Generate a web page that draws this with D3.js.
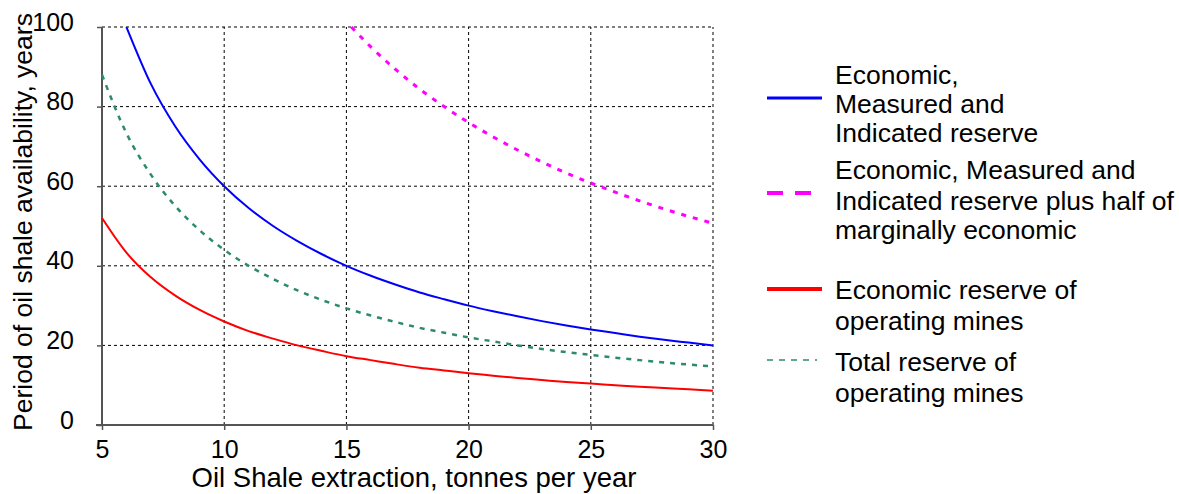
<!DOCTYPE html>
<html><head><meta charset="utf-8">
<script src="https://cdn.jsdelivr.net/npm/d3@7"></script>
<style>body{margin:0;background:#fff}svg{display:block}text{font-family:"Liberation Sans",Arial,sans-serif;fill:#000}</style>
</head><body>
<svg id="c" width="1179" height="494"></svg>
<script>
const xTicks = [5, 10, 15, 20, 25, 30];
const yTicks = [0, 20, 40, 60, 80, 100];
const xAxisTitle = "Oil Shale extraction, tonnes per year";
const yAxisTitle = "Period of oil shale availability, years";

const blueX = [6,7,8,9,10,11,12,13,14,15,16,17,18,19,20,21,22,23,24,25,26,27,28,29,30];
const blueY = [100,85.7,75,66.7,60,54.5,50,46.2,42.9,40,37.5,35.3,33.3,31.6,30,28.6,27.3,26.1,25,24,23.1,22.2,21.4,20.7,20];
const magX = [15.2,16,17,18,19,20,21,22,23,24,25,26,27,28,29,30];
const magY = [100,95,89.4,84.4,80,76,72.4,69.1,66.1,63.3,60.8,58.5,56.3,54.3,52.4,50.7];
const redX = [5,6,7,8,9,10,11,12,13,14,15,16,17,18,19,20,21,22,23,24,25,26,27,28,29,30];
const redY = [52,43.3,37.1,32.5,28.9,26,23.6,21.7,20,18.6,17.3,16.3,15.3,14.4,13.7,13,12.4,11.8,11.3,10.8,10.4,10,9.6,9.3,9,8.6];
const greenX = [5,6,7,8,9,10,11,12,13,14,15,16,17,18,19,20,21,22,23,24,25,26,27,28,29,30];
const greenY = [88,73.3,62.9,55,48.9,44,40,36.7,33.8,31.4,29.3,27.5,25.9,24.4,23.2,22,21,20,19.1,18.3,17.6,16.9,16.3,15.7,15.2,14.7];

const seriesNames = [
  ["Economic,", "Measured and", "Indicated reserve"],
  ["Economic, Measured and", "Indicated reserve plus half of", "marginally economic"],
  ["Economic reserve of", "operating mines"],
  ["Total reserve of", "operating mines"]
];

const svg = d3.select("#c");
const x = d3.scaleLinear().domain([5, 30]).range([102, 713]);
const y = d3.scaleLinear().domain([0, 100]).range([425, 27]);

// grid
const g = svg.append("g");
g.selectAll("line.vg").data(xTicks.slice(1)).join("line")
  .attr("x1", d => x(d)).attr("x2", d => x(d)).attr("y1", y(0)).attr("y2", y(100))
  .attr("stroke", "#000").attr("stroke-width", 1).attr("stroke-dasharray", "3,3");
g.selectAll("line.hg").data(yTicks.slice(1)).join("line")
  .attr("y1", d => y(d)).attr("y2", d => y(d)).attr("x1", x(5)).attr("x2", x(30))
  .attr("stroke", "#000").attr("stroke-width", 1).attr("stroke-dasharray", "3,3");

// axes
const xa = svg.append("g").attr("transform", `translate(0,${y(0)})`)
  .call(d3.axisBottom(x).tickValues(xTicks).tickSize(5).tickPadding(10).tickFormat(d3.format("d")));
const ya = svg.append("g").attr("transform", `translate(${x(5)},0)`)
  .call(d3.axisLeft(y).tickValues(yTicks).tickSize(5).tickPadding(23).tickFormat(d3.format("d")));
[xa, ya].forEach(a => {
  a.select(".domain").attr("stroke", "#555").attr("stroke-width", 2);
  a.selectAll(".tick line").attr("stroke", "#555").attr("stroke-width", 1.5);
  a.selectAll(".tick text").style("font-size", "25px").style("font-family", "Liberation Sans, Arial, sans-serif").attr("fill", "#000");
});
ya.selectAll(".tick text").attr("dy", "0.12em");
ya.select(".domain").attr("d", `M0,${y(100)}V${y(0)}`);
xa.select(".domain").attr("transform", `translate(${x(5)},0)`).attr("d", `M-6,0H${x(30)-x(5)}`);

svg.append("text").attr("x", 414).attr("y", 487).attr("text-anchor", "middle")
  .style("font-size", "27.5px").text(xAxisTitle);
svg.append("text").attr("transform", `translate(32,222) rotate(-90)`).attr("text-anchor", "middle")
  .style("font-size", "26.5px").text(yAxisTitle);

// lines
const line = d3.line().x(d => x(d[0])).y(d => y(d[1])).curve(d3.curveMonotoneX);
const series = [
  {xs: blueX, ys: blueY, color: "#0000ff", w: 2, dash: null},
  {xs: magX, ys: magY, color: "#ff00ff", w: 3, dash: "5,7"},
  {xs: redX, ys: redY, color: "#ff0000", w: 2, dash: null},
  {xs: greenX, ys: greenY, color: "#2e8b6a", w: 2.5, dash: "5,6"}
];
series.forEach(s => {
  svg.append("path").datum(s.xs.map((v, i) => [v, s.ys[i]]))
    .attr("d", line).attr("fill", "none").attr("stroke", s.color)
    .attr("stroke-width", s.w).attr("stroke-dasharray", s.dash);
});

// legend
const leg = [
  {ly: 98, ty: [75, 104, 133], dash: null, w: 3, x2: 822},
  {ly: 193, ty: [170, 201, 230], dash: "16,12", w: 4, x2: 811},
  {ly: 289, ty: [290, 321], dash: null, w: 4, x2: 822},
  {ly: 360, ty: [362, 393], dash: "6,6", w: 1.5, x2: 817}
];
leg.forEach((l, i) => {
  svg.append("line").attr("x1", 767).attr("x2", l.x2).attr("y1", l.ly).attr("y2", l.ly)
    .attr("stroke", series[i].color).attr("stroke-width", l.w).attr("stroke-dasharray", l.dash);
  seriesNames[i].forEach((t, j) => {
    svg.append("text").attr("x", 835).attr("y", l.ty[j]).attr("dy", "0.35em")
      .style("font-size", "26.5px").text(t);
  });
});
</script>
</body></html>
